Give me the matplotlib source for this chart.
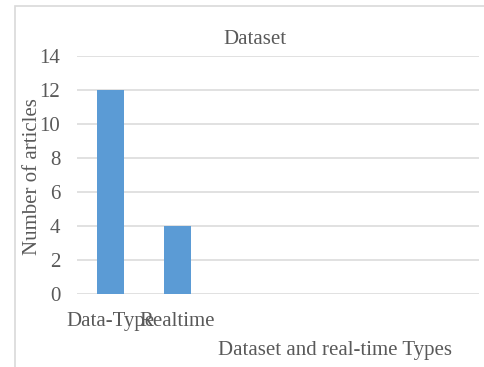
import matplotlib.pyplot as plt
from matplotlib.patches import Rectangle

# DATA
categories = ['Data-Type', 'Realtime']
counts = [12, 4]
n_slots = 6          # the axis has room for six category slots
y_ticks = [0, 2, 4, 6, 8, 10, 12, 14]

BAR_COLOR = '#5B9BD5'
GRID_COLOR = '#D9D9D9'
TEXT_COLOR = '#595959'

plt.rcParams['font.family'] = ['Liberation Serif', 'DejaVu Serif']
FS = 15

fig = plt.figure(figsize=(4.85, 3.67), dpi=100)
ax = fig.add_axes([0.1588, 0.1989, 0.8288, 0.6485])

x = list(range(len(categories)))
ax.bar(x, counts, width=0.4, color=BAR_COLOR, zorder=3)

ax.set_xlim(-0.5, n_slots - 0.5)
ax.set_ylim(0, 14)
ax.set_yticks(y_ticks)
ax.set_xticks(x)
ax.set_xticklabels(categories)

ax.grid(axis='y', color=GRID_COLOR, linewidth=1.1, zorder=0)
for s in ax.spines.values():
    s.set_visible(False)
ax.tick_params(axis='both', length=0, labelsize=FS, colors=TEXT_COLOR)
ax.tick_params(axis='y', pad=12)
ax.tick_params(axis='x', pad=13)

fig.text(0.526, 0.893, 'Dataset', ha='center', va='center', fontsize=FS, color=TEXT_COLOR)
fig.text(0.69, 0.046, 'Dataset and real-time Types', ha='center', va='center',
         fontsize=FS, color=TEXT_COLOR)
fig.text(0.068, 0.52, 'Number of articles', ha='center', va='center', rotation=90,
         fontsize=FS, color=TEXT_COLOR)

# chart border
fig.patches.append(Rectangle((15 / 485, -0.1), 1.2, 1.1 - 6 / 367 + 0.0, transform=fig.transFigure,
                             fill=False, edgecolor=GRID_COLOR, linewidth=1.2, clip_on=False))

plt.savefig('out.png', dpi=100)
